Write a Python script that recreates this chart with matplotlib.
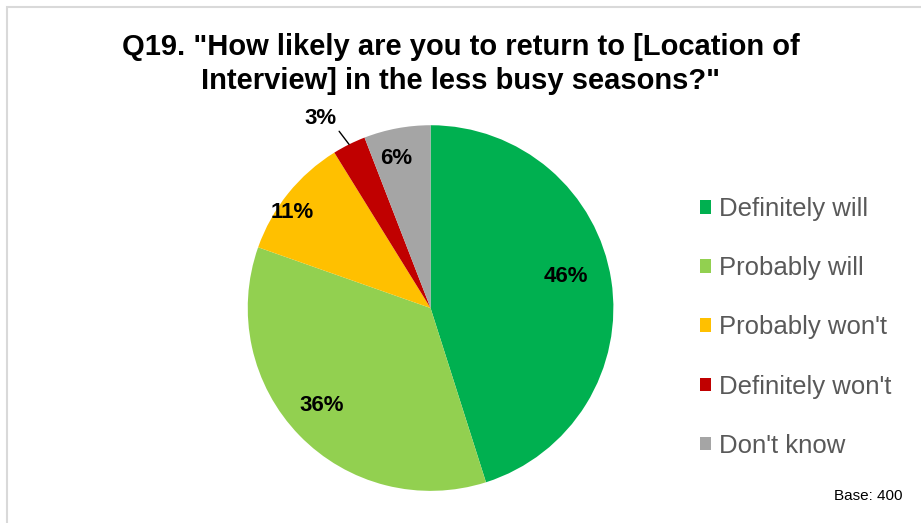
import numpy as np
import matplotlib.pyplot as plt
from matplotlib.patches import Rectangle

plt.rcParams['font.family'] = ['Liberation Sans', 'DejaVu Sans']

# Data
categories = ['Definitely will', 'Probably will', "Probably won't", "Definitely won't", "Don't know"]
shares = [46, 36, 11, 3, 6]
labels = ['46%', '36%', '11%', '3%', '6%']
colors = ['#00b050', '#92d050', '#ffc000', '#c00000', '#a5a5a5']

fig = plt.figure(figsize=(9.21, 5.23), dpi=100)

# light grey frame round the chart area
fig.patches.append(Rectangle((7 / 921, -0.05), 1.1, 1 - 7 / 523 + 0.05,
                             transform=fig.transFigure, fill=False,
                             edgecolor='#d9d9d9', linewidth=1.5))

ax = fig.add_axes([0.269, 0.061, 0.397, 0.700])
wedges, _ = ax.pie(shares, colors=colors, startangle=90, counterclock=False,
                   wedgeprops=dict(linewidth=0))
ax.set_xlim(-1, 1)
ax.set_ylim(-1, 1)
ax.set_aspect('equal')

# label placement: distance (radius units) and angle shift (deg) from slice middle
dists = [0.76, 0.80, 0.92, 1.20, 0.84]
shifts = [4.5, -2.4, 4.2, 3.5, 2.2]
for w, lab, d, s in zip(wedges, labels, dists, shifts):
    mid = np.deg2rad((w.theta1 + w.theta2) / 2)
    ang = mid + np.deg2rad(s)
    x, y = d * np.cos(ang), d * np.sin(ang)
    if lab == '3%':
        ax.annotate(lab, xy=(np.cos(mid), np.sin(mid)), xytext=(x, y),
                    ha='center', va='center', fontsize=16, fontweight='bold',
                    annotation_clip=False,
                    arrowprops=dict(arrowstyle='-', color='black', lw=1,
                                    relpos=(0.95, 0.1), shrinkA=0, shrinkB=0))
    else:
        ax.text(x, y, lab, ha='center', va='center', fontsize=16, fontweight='bold')

handles = [Rectangle((0, 0), 1, 1, facecolor=c) for c in colors]
leg = fig.legend(handles, categories, loc='center left', bbox_to_anchor=(0.735, 0.374),
                 frameon=False, fontsize=18.5, labelspacing=1.37, handlelength=0.43,
                 handleheight=0.43, handletextpad=0.31)
for t in leg.get_texts():
    t.set_color('#595959')

fig.text(0.5, 0.937, 'Q19. "How likely are you to return to [Location of\nInterview] in the less busy seasons?"',
         ha='center', va='top', fontsize=21, fontweight='bold', linespacing=1.28)

fig.text(0.943, 0.052, 'Base: 400', ha='center', va='center', fontsize=11)

fig.savefig('out.png', dpi=100)
